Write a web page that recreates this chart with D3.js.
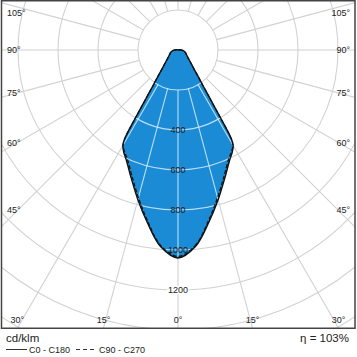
<!DOCTYPE html>
<html><head><meta charset="utf-8">
<script src="https://cdn.jsdelivr.net/npm/d3@7/dist/d3.min.js"></script>
<style>html,body{margin:0;padding:0;background:#fff}svg{display:block}</style>
</head><body><div id="chart"></div>
<script>
// gamma angles (deg from nadir) and luminous intensity (cd/klm)
const gammas = [0, 5, 10, 15, 20, 25, 28, 30, 31, 32, 33, 34, 35, 37.5, 40, 45, 50, 60, 70, 80, 90, 100, 120, 180];
const c0c180 = [1040, 988, 878, 775, 683, 610, 578, 552, 518, 410, 318, 262, 218, 162, 126, 90, 70, 50, 40, 30, 17, 7, 1, 0];
const c90c270 = [1032, 982, 870, 764, 672, 600, 572, 548, 514, 406, 315, 260, 216, 160, 125, 89, 69, 49, 39, 29, 16, 6, 1, 0];
const circleValues = [200, 400, 600, 800, 1000, 1200, 1400, 1600, 1800, 2000];
const circleLabels = [400, 600, 800, 1000, 1200];
const sideAngles = [45, 60, 75, 90, 105];
const bottomAngles = [0, 15, 30];
const legendItems = ["C0 - C180", "C90 - C270"];
const unitLabel = "cd/klm";
const effLabel = "\u03b7 = 103%";

const W = 357, H = 357;
const cx = 178, cy = 50;
const fx0 = 1.5, fy0 = 0.75, fx1 = 355, fy1 = 328.25;
const r = d3.scaleLinear().domain([0, 1000]).range([0, 200]);
const rad = d => d * Math.PI / 180;

const svg = d3.select("#chart").append("svg").attr("width", W).attr("height", H)
  .style("font-family", "'Liberation Sans', Arial, sans-serif");
const defs = svg.append("defs");
defs.append("clipPath").attr("id", "frameClip").append("rect")
  .attr("x", fx0).attr("y", fy0).attr("width", fx1 - fx0).attr("height", fy1 - fy0);

// closed polar path: right side 0->180, then left side 180->0
function pts(vals) {
  const out = [];
  gammas.forEach((g, i) => out.push([Math.PI - rad(g), r(vals[i])]));
  for (let i = gammas.length - 2; i >= 1; i--) out.push([-(Math.PI - rad(gammas[i])), r(vals[i])]);
  return out;
}
const radial = d3.lineRadial().angle(d => d[0]).radius(d => d[1]).curve(d3.curveCatmullRomClosed.alpha(0.5));

const gRoot = svg.append("g").attr("clip-path", "url(#frameClip)");
const plot = gRoot.append("g").attr("transform", `translate(${cx},${cy})`);

function drawGrid(sel, color, width) {
  sel.selectAll("circle").data(circleValues).join("circle")
    .attr("r", d => r(d)).attr("fill", "none").attr("stroke", color).attr("stroke-width", width);
  const angs = d3.range(0, 360, 15);
  sel.selectAll("line").data(angs).join("line")
    .attr("x1", d => r(200) * Math.sin(rad(d))).attr("y1", d => r(200) * Math.cos(rad(d)))
    .attr("x2", d => r(2000) * Math.sin(rad(d))).attr("y2", d => r(2000) * Math.cos(rad(d)))
    .attr("stroke", color).attr("stroke-width", width);
}
drawGrid(plot.append("g"), "#d2d2d2", 1.1);

// fill
defs.append("clipPath").attr("id", "fillClip").append("path")
  .attr("transform", `translate(${cx},${cy})`).attr("d", radial(pts(c0c180)));
plot.append("path").attr("d", radial(pts(c0c180))).attr("fill", "#1a8bd4");
// grid over fill
const inner = gRoot.append("g").attr("clip-path", "url(#fillClip)").append("g").attr("transform", `translate(${cx},${cy})`);
drawGrid(inner, "rgba(225,242,255,0.8)", 1.1);

const overlay = gRoot.append("g").attr("transform", `translate(${cx},${cy})`);
// curves
overlay.append("path").attr("d", radial(pts(c90c270))).attr("fill", "none")
  .attr("stroke", "#111").attr("stroke-width", 1.2).attr("stroke-dasharray", "4,2");
overlay.append("path").attr("d", radial(pts(c0c180))).attr("fill", "none")
  .attr("stroke", "#111").attr("stroke-width", 1.4);

// circle value labels along nadir
const maxI = d3.max(c0c180);
overlay.selectAll("text.cl").data(circleLabels).join("text").attr("class", "cl")
  .attr("x", 0).attr("y", d => r(d)).attr("dy", "0.35em")
  .attr("text-anchor", "middle").attr("font-size", 9).attr("fill", "#1a1a1a")
  .attr("stroke", d => d > maxI ? "#fff" : "none").attr("stroke-width", 3)
  .attr("paint-order", "stroke")
  .text(d => d);

// frame
svg.append("rect").attr("x", fx0).attr("y", fy0).attr("width", fx1 - fx0).attr("height", fy1 - fy0)
  .attr("fill", "none").attr("stroke", "#444").attr("stroke-width", 1.5);

// angle labels
const lab = svg.append("g").attr("font-size", 9).attr("fill", "#222");
sideAngles.forEach(a => {
  const t = (cx - 18) / Math.sin(rad(a));
  const y = Math.max(13, cy + t * Math.cos(rad(a)));
  lab.append("text").attr("x", 7).attr("y", y).attr("dy", "0.35em").text(a + "\u00b0");
  lab.append("text").attr("x", 350).attr("y", y).attr("dy", "0.35em").attr("text-anchor", "end").text(a + "\u00b0");
});
bottomAngles.forEach(a => {
  const dx = (fy1 - cy) * Math.tan(rad(a));
  [-1, 1].forEach(s => {
    if (a === 0 && s === 1) return;
    const x = Math.min(fx1 - 13, Math.max(fx0 + 13, cx + s * dx));
    lab.append("text").attr("x", x).attr("y", 323).attr("text-anchor", "middle").text(a + "\u00b0");
  });
});

// legend
svg.append("text").attr("x", 6).attr("y", 342).attr("font-size", 11.5).attr("fill", "#222").text(unitLabel);
svg.append("text").attr("x", 349).attr("y", 342).attr("font-size", 11.5).attr("fill", "#222").attr("text-anchor", "end").text(effLabel);
const leg = svg.append("g").attr("font-size", 9).attr("fill", "#222");
const legX = [6, 76];
legendItems.forEach((t, i) => {
  leg.append("line").attr("x1", legX[i]).attr("x2", legX[i] + 21).attr("y1", 349.5).attr("y2", 349.5)
    .attr("stroke", "#333").attr("stroke-width", 1).attr("stroke-dasharray", i ? "4,3" : null);
  leg.append("text").attr("x", legX[i] + 23).attr("y", 353).text(t);
});
</script></body></html>
